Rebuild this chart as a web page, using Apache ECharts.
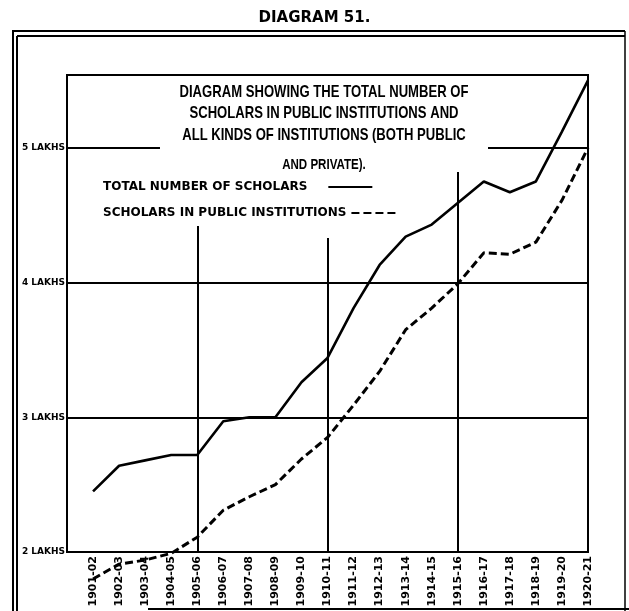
<!DOCTYPE html>
<html>
<head>
<meta charset="utf-8">
<title>Diagram 51</title>
<script src="https://cdn.jsdelivr.net/npm/echarts@6/dist/echarts.min.js"></script>
<style>
  html, body { margin: 0; padding: 0; background: #fff; }
  #chart { width: 629px; height: 611px; }
</style>
</head>
<body>
<div id="chart"></div>
<script>
// Session labels along the horizontal axis
const years = [
  '1901-02', '1902-03', '1903-04', '1904-05', '1905-06',
  '1906-07', '1907-08', '1908-09', '1909-10', '1910-11',
  '1911-12', '1912-13', '1913-14', '1914-15', '1915-16',
  '1916-17', '1917-18', '1918-19', '1919-20', '1920-21'
];

// Scholars, in lakhs
const totalScholars = [2.45, 2.64, 2.68, 2.72, 2.72, 2.97, 3.00, 3.00, 3.26, 3.44,
                       3.81, 4.13, 4.34, 4.43, 4.59, 4.75, 4.67, 4.75, 5.12, 5.50];
const publicScholars = [1.80, 1.91, 1.94, 1.99, 2.11, 2.31, 2.41, 2.50, 2.69, 2.85,
                        3.09, 3.34, 3.65, 3.81, 3.99, 4.22, 4.21, 4.30, 4.61, 5.00];

// Vertical dividers every fifth session: [session index, height they rise to]
const dividers = [[4, 4.42], [9, 4.33], [14, 4.85]];

const yTicks = [2, 3, 4, 5];

const seriesNames = ['TOTAL NUMBER OF SCHOLARS', 'SCHOLARS IN PUBLIC INSTITUTIONS'];
const titleLines = [
  'DIAGRAM SHOWING THE TOTAL NUMBER OF',
  'SCHOLARS IN PUBLIC INSTITUTIONS AND',
  'ALL KINDS OF INSTITUTIONS (BOTH PUBLIC',
  'AND PRIVATE).'
];

const INK = '#000';
const SANS = "'Liberation Sans', Arial, sans-serif";
const WIDE = "'DejaVu Sans', sans-serif";

const chart = echarts.init(document.getElementById('chart'), null, { renderer: 'canvas' });

const toPairs = arr => arr.map((v, i) => [i, v]);

// one legend block per series so each entry keeps its text flush left
const legendBlock = (name, top, gapAfterText) => ({
  orient: 'vertical',
  left: 98,
  top: top,
  align: 'right',
  itemWidth: 44,
  itemHeight: 14,
  selectedMode: false,
  data: [name],
  itemStyle: { opacity: 0 },
  textStyle: {
    fontFamily: WIDE, fontWeight: 'bold', fontSize: 12, color: INK,
    padding: [0, gapAfterText, 0, 0]
  }
});

// Heading inside the plot: narrow bold caps on a white plate
const titleLineY = [14, 35, 57, 87];
const headingGroup = {
  type: 'group',
  x: 324,
  y: 78,
  scaleX: 0.77,
  children: [
    { type: 'rect', z: 100, shape: { x: -213, y: 0, width: 426, height: 94 }, style: { fill: '#fff' } }
  ].concat(titleLines.map((line, i) => ({
    type: 'text',
    z: 101,
    x: 0,
    y: titleLineY[i],
    style: {
      text: line,
      fill: INK,
      font: (i === 3 ? 'bold 15px ' : 'bold 17px ') + SANS,
      textAlign: 'center',
      textVerticalAlign: 'middle'
    }
  })))
};

chart.setOption({
  animation: false,
  backgroundColor: '#fff',
  title: {
    text: 'DIAGRAM 51.',
    left: 'center',
    top: 11,
    padding: 0,
    textStyle: { fontFamily: WIDE, fontWeight: 'bold', fontSize: 15, color: INK }
  },
  legend: [
    legendBlock(seriesNames[0], 176, 16),
    legendBlock(seriesNames[1], 202, 0)
  ],
  grid: {
    left: 67, top: 75, width: 521, height: 477,
    show: true, borderColor: INK, borderWidth: 2, backgroundColor: 'transparent'
  },
  xAxis: {
    type: 'value',
    min: -1,
    max: 19,
    interval: 1,
    axisLine: { show: true, lineStyle: { color: INK, width: 2 } },
    axisTick: { show: false },
    splitLine: { show: false },
    axisLabel: {
      rotate: 90,
      margin: 4,
      showMinLabel: true,
      showMaxLabel: true,
      fontFamily: WIDE,
      fontWeight: 'bold',
      fontSize: 11,
      color: INK,
      formatter: v => (v >= 0 && v < years.length ? years[v] : '')
    }
  },
  yAxis: {
    type: 'value',
    min: yTicks[0],
    max: 5.54,
    interval: 1,
    axisLine: { show: false },
    axisTick: { show: false },
    splitLine: { show: true, lineStyle: { color: INK, width: 2 } },
    axisLabel: {
      margin: 2,
      showMaxLabel: false,
      fontFamily: WIDE,
      fontWeight: 'bold',
      fontSize: 9,
      color: INK,
      formatter: v => (yTicks.includes(v) ? v + ' LAKHS' : '')
    }
  },
  series: [
    {
      name: seriesNames[0],
      type: 'line',
      data: toPairs(totalScholars),
      symbol: 'none',
      clip: false,
      lineStyle: { color: INK, width: 2.6, type: 'solid' },
      itemStyle: { color: INK },
      markLine: {
        silent: true,
        symbol: 'none',
        label: { show: false },
        lineStyle: { color: INK, width: 2, type: 'solid' },
        data: dividers.map(([x, top]) => [{ coord: [x, yTicks[0]] }, { coord: [x, top] }])
      }
    },
    {
      name: seriesNames[1],
      type: 'line',
      data: toPairs(publicScholars),
      symbol: 'none',
      clip: false,
      lineStyle: { color: INK, width: 3, type: [8, 4] },
      itemStyle: { color: INK }
    }
  ],
  graphic: [
    headingGroup,
    // outer double rule on the left and top, single on the right, and the bottom rule
    { type: 'line', shape: { x1: 13, y1: 31, x2: 13, y2: 611 }, style: { stroke: INK, lineWidth: 2 } },
    { type: 'line', shape: { x1: 17, y1: 36, x2: 17, y2: 611 }, style: { stroke: INK, lineWidth: 2 } },
    { type: 'line', shape: { x1: 12, y1: 31, x2: 625, y2: 31 }, style: { stroke: INK, lineWidth: 2 } },
    { type: 'line', shape: { x1: 17, y1: 36, x2: 625, y2: 36 }, style: { stroke: INK, lineWidth: 2 } },
    { type: 'line', shape: { x1: 625, y1: 31, x2: 625, y2: 611 }, style: { stroke: INK, lineWidth: 1.5 } },
    { type: 'line', shape: { x1: 148, y1: 609, x2: 629, y2: 609 }, style: { stroke: INK, lineWidth: 2 } }
  ]
});
</script>
</body>
</html>
